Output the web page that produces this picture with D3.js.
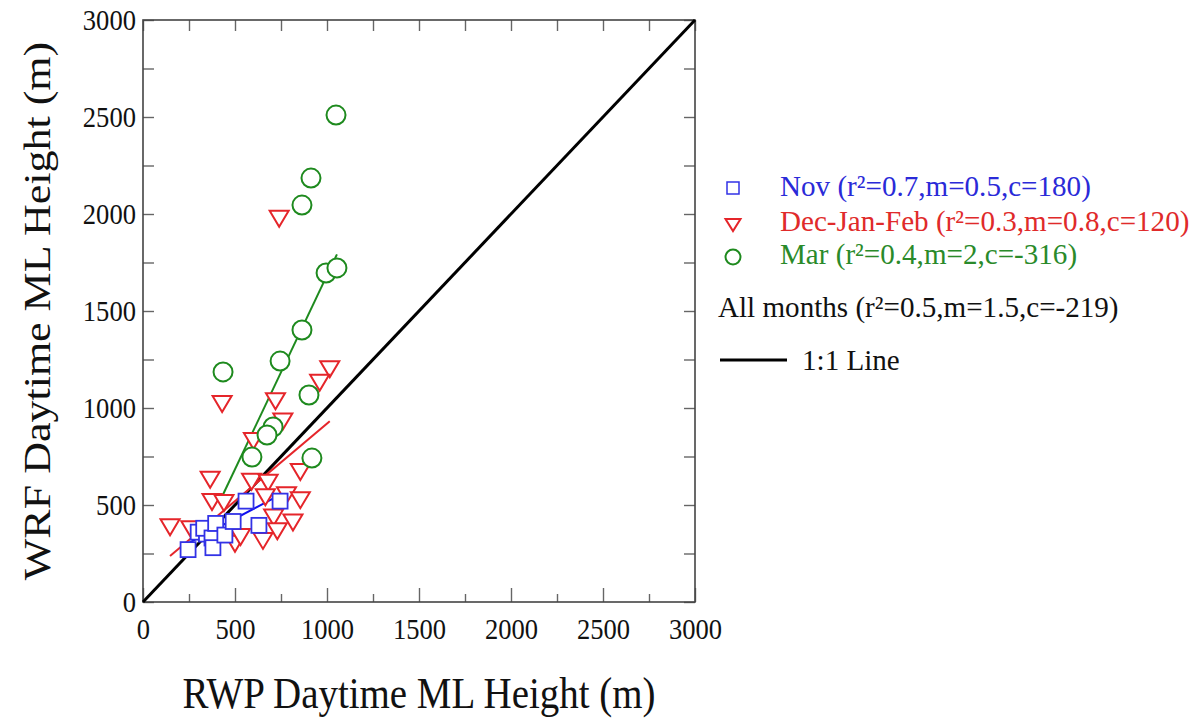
<!DOCTYPE html>
<html>
<head>
<meta charset="utf-8">
<script src="https://cdn.jsdelivr.net/npm/d3@7/dist/d3.min.js"></script>
<style>
  html, body { margin: 0; padding: 0; background: #fff; }
  svg { display: block; }
  text { font-family: "Liberation Serif", "Times New Roman", serif; }
</style>
</head>
<body>
<svg id="chart" width="1197" height="723"></svg>
<script>
// ---- Data ----
const novX = [245, 300, 345, 330, 375, 380, 395, 445, 490, 560, 630, 745];
const novY = [270, 360, 350, 380, 330, 280, 405, 345, 415, 520, 395, 520];

const djfX = [147, 260, 365, 375, 440, 430, 500, 590, 680, 665, 780, 855, 855, 710, 815, 730, 652, 720, 760, 600, 1015, 960, 740, 530];
const djfY = [385, 375, 630, 515, 510, 1020, 300, 620, 615, 540, 550, 525, 670, 435, 410, 365, 315, 1035, 930, 830, 1200, 1130, 1975, 335];

const marX = [1049, 913, 864, 995, 1054, 864, 745, 435, 902, 707, 674, 592, 918];
const marY = [2510, 2185, 2046, 1696, 1722, 1402, 1242, 1186, 1067, 902, 861, 747, 742];

// regression parameters [slope, intercept] from the legend
const novFit = [0.5, 180];
const djfFit = [0.8, 120];
const marFit = [2, -316];

const majorTicks = [0, 500, 1000, 1500, 2000, 2500, 3000];
const minorTicks = [250, 750, 1250, 1750, 2250, 2750];
const tickLabels = ["0", "500", "1000", "1500", "2000", "2500", "3000"];

const legendLabels = [
  "Nov (r\u00B2=0.7,m=0.5,c=180)",
  "Dec-Jan-Feb (r\u00B2=0.3,m=0.8,c=120)",
  "Mar (r\u00B2=0.4,m=2,c=-316)",
  "All months (r\u00B2=0.5,m=1.5,c=-219)",
  "1:1 Line"
];
const xTitle = "RWP Daytime ML Height (m)";
const yTitle = "WRF Daytime ML Height (m)";

// ---- Styling ----
const BLUE = "#3232e6", BLUE_TXT = "#2a2ad8", BLUE_LINE = "#1010f0";
const RED = "#e5252a", RED_TXT = "#e02a2a";
const GREEN = "#1e8a1e", GREEN_TXT = "#2a8a2a";
const SQ = 0.885; // horizontal squeeze of text in the reference

const svg = d3.select("#chart");
const x = d3.scaleLinear().domain([0, 3000]).range([143, 695]);
const y = d3.scaleLinear().domain([0, 3000]).range([602, 20]);

// ---- Axes ----
function styleAxis(g) {
  g.select(".domain").remove();
  g.selectAll(".tick line").attr("stroke", "#666").attr("stroke-width", 1.4);
  g.selectAll(".tick text")
    .attr("font-family", "Liberation Serif, serif")
    .attr("font-size", 30)
    .attr("fill", "#111")
    .attr("transform", `scale(${SQ},1)`);
}
const fmt = (d) => tickLabels[majorTicks.indexOf(d)];

svg.append("g").attr("transform", "translate(0,602)")
  .call(d3.axisBottom(x).tickValues(majorTicks).tickSize(-14).tickSizeOuter(0).tickPadding(16).tickFormat(fmt))
  .call(styleAxis);
svg.append("g").attr("transform", "translate(0,602)")
  .call(d3.axisBottom(x).tickValues(minorTicks).tickSize(-8).tickSizeOuter(0).tickFormat(""))
  .call(styleAxis);
svg.append("g").attr("transform", "translate(143,0)")
  .call(d3.axisLeft(y).tickValues(majorTicks).tickSize(-11).tickSizeOuter(0).tickPadding(8).tickFormat(fmt))
  .call(styleAxis);
svg.append("g").attr("transform", "translate(143,0)")
  .call(d3.axisLeft(y).tickValues(minorTicks).tickSize(-11).tickSizeOuter(0).tickFormat(""))
  .call(styleAxis);
svg.append("g").attr("transform", "translate(0,20)")
  .call(d3.axisTop(x).tickValues(majorTicks.concat(minorTicks)).tickSize(-11).tickSizeOuter(0).tickFormat(""))
  .call(styleAxis);
svg.append("g").attr("transform", "translate(695,0)")
  .call(d3.axisRight(y).tickValues(majorTicks.concat(minorTicks)).tickSize(-11).tickSizeOuter(0).tickFormat(""))
  .call(styleAxis);

// frame
svg.append("rect")
  .attr("x", x(0)).attr("y", y(3000))
  .attr("width", x(3000) - x(0)).attr("height", y(0) - y(3000))
  .attr("fill", "none").attr("stroke", "#444").attr("stroke-width", 1.6);

// axis titles
svg.append("g").attr("transform", `translate(${(x(0) + x(3000)) / 2},708) scale(${SQ},1)`)
  .append("text").attr("text-anchor", "middle").attr("font-size", 44).attr("fill", "#111").text(xTitle);
svg.append("g").attr("transform", `translate(50,${(y(0) + y(3000)) / 2}) rotate(-90) scale(1,${SQ})`)
  .append("text").attr("text-anchor", "middle").attr("font-size", 44).attr("fill", "#111").text(yTitle);

// ---- Lines ----
svg.append("line")
  .attr("x1", x(0)).attr("y1", y(0)).attr("x2", x(3000)).attr("y2", y(3000))
  .attr("stroke", "#000").attr("stroke-width", 3);

function fitLine(xs, fit, color) {
  const x0 = d3.min(xs), x1 = d3.max(xs);
  svg.append("line")
    .attr("x1", x(x0)).attr("y1", y(fit[0] * x0 + fit[1]))
    .attr("x2", x(x1)).attr("y2", y(fit[0] * x1 + fit[1]))
    .attr("stroke", color).attr("stroke-width", 2);
}
fitLine(novX, novFit, BLUE_LINE);
fitLine(djfX, djfFit, RED);
fitLine(marX, marFit, GREEN);

// ---- Markers ----
const tri = (w, h) => `M${-w / 2},${-h / 2}L${w / 2},${-h / 2}L0,${h / 2}Z`;

svg.append("g").selectAll("path").data(d3.zip(djfX, djfY)).join("path")
  .attr("transform", d => `translate(${x(d[0])},${y(d[1])})`)
  .attr("d", tri(19, 16))
  .attr("fill", "#fff").attr("stroke", RED).attr("stroke-width", 2).attr("stroke-linejoin", "miter");

svg.append("g").selectAll("circle").data(d3.zip(marX, marY)).join("circle")
  .attr("cx", d => x(d[0])).attr("cy", d => y(d[1])).attr("r", 9.5)
  .attr("fill", "#fff").attr("stroke", GREEN).attr("stroke-width", 2);

svg.append("g").selectAll("rect").data(d3.zip(novX, novY)).join("rect")
  .attr("x", d => x(d[0]) - 7.5).attr("y", d => y(d[1]) - 7.5)
  .attr("width", 15).attr("height", 15)
  .attr("fill", "#fff").attr("stroke", BLUE).attr("stroke-width", 1.8);

// ---- Legend ----
const lg = svg.append("g");
lg.append("rect").attr("x", 727).attr("y", 182).attr("width", 12).attr("height", 12)
  .attr("fill", "#fff").attr("stroke", BLUE).attr("stroke-width", 1.5);
lg.append("path").attr("transform", "translate(733,225)").attr("d", tri(15, 12))
  .attr("fill", "#fff").attr("stroke", RED).attr("stroke-width", 2);
lg.append("circle").attr("cx", 733).attr("cy", 257).attr("r", 7.5)
  .attr("fill", "#fff").attr("stroke", GREEN).attr("stroke-width", 2);
lg.append("line").attr("x1", 720).attr("x2", 787).attr("y1", 360).attr("y2", 360)
  .attr("stroke", "#000").attr("stroke-width", 3);

const LSQ = 0.97;
const legendPos = [[780, 196, BLUE_TXT], [780, 231, RED_TXT], [780, 264, GREEN_TXT], [718, 317, "#111"], [802, 370, "#111"]];
legendLabels.forEach((t, i) => {
  const [lx, ly, c] = legendPos[i];
  lg.append("g").attr("transform", `translate(${lx},${ly}) scale(${LSQ},1)`)
    .append("text").attr("font-size", 30).attr("fill", c).text(t);
});
</script>
</body>
</html>
